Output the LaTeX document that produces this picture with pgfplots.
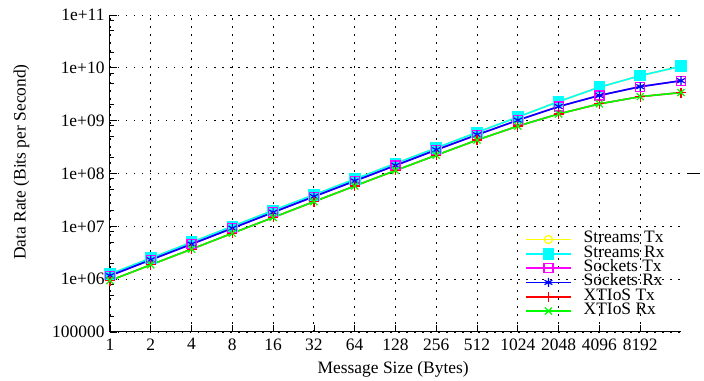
\documentclass[border=0pt]{standalone}
\usepackage{fontspec}
\setmainfont{Liberation Serif}
\usepackage{pgfplots}
\usepackage{pgfplotstable}
\pgfplotsset{compat=1.18}
\pgfplotstableread{
x st sr kt kr xt xr
0 1.25e6 1.25e6 1.16e6 1.16e6 0.94e6 0.94e6
1 2.5e6 2.5e6 2.32e6 2.32e6 1.87e6 1.87e6
2 5.0e6 5.0e6 4.6e6 4.6e6 3.7e6 3.7e6
3 1.0e7 1.0e7 9.2e6 9.2e6 7.4e6 7.4e6
4 2.0e7 2.0e7 1.84e7 1.84e7 1.47e7 1.47e7
5 3.95e7 3.95e7 3.65e7 3.65e7 2.93e7 2.93e7
6 7.8e7 7.8e7 7.2e7 7.2e7 5.8e7 5.8e7
7 1.55e8 1.55e8 1.42e8 1.42e8 1.14e8 1.14e8
8 3.05e8 3.05e8 2.8e8 2.8e8 2.22e8 2.22e8
9 6.0e8 6.0e8 5.4e8 5.4e8 4.3e8 4.3e8
10 1.17e9 1.17e9 1.02e9 1.02e9 7.9e8 7.9e8
11 2.3e9 2.3e9 1.85e9 1.85e9 1.34e9 1.34e9
12 4.3e9 4.3e9 3.0e9 3.0e9 2.08e9 2.08e9
13 7.1e9 7.1e9 4.4e9 4.4e9 2.85e9 2.85e9
14 1.07e10 1.07e10 5.7e9 5.7e9 3.4e9 3.4e9
}\datatable
\definecolor{cYel}{RGB}{255,255,0}
\definecolor{cCyan}{RGB}{0,255,255}
\definecolor{cMag}{RGB}{255,0,255}
\definecolor{cBlue}{RGB}{0,0,255}
\definecolor{cRed}{RGB}{255,0,0}
\definecolor{cGreen}{RGB}{0,255,0}
\newcommand{\bigf}{\fontsize{17.5}{20}\selectfont}
\begin{document}
\begin{tikzpicture}[font=\bigf]
\path[use as bounding box] (-110bp,-49bp) rectangle (594bp,332bp);
\begin{axis}[
  at={(0,0)}, anchor=south west,
  scale only axis,
  width=571bp, height=317bp,
  xmin=0, xmax=14,
  ymode=log, ymin=1e5, ymax=1e11,
  axis lines=left,
  axis line style={-, line width=1bp, black},
  clip=false,
  xtick={0,1,2,3,4,5,6,7,8,9,10,11,12,13},
  xticklabels={1,2,4,8,16,32,64,128,256,512,1024,2048,4096,8192},
  ytick={1e5,1e6,1e7,1e8,1e9,1e10,1e11},
  yticklabels={100000,1e+06,1e+07,1e+08,1e+09,1e+10,1e+11},
  minor ytick={2e5,5e5,8e5,2e6,5e6,8e6,2e7,5e7,8e7,2e8,5e8,8e8,2e9,5e9,8e9,2e10,5e10,8e10},
  /pgf/number format/assume math mode=true,
  tick align=inside,
  major tick length=7bp,
  minor tick length=4bp,
  tick style={black, line width=0.8bp},
  tick label style={font=\bigf},
  xticklabel style={yshift=-3bp},
  yticklabel style={xshift=-2bp},
  grid=major,
  major grid style={black, line width=0.9bp, dash pattern=on 1.5bp off 6.5bp},
  xlabel={Message Size (Bytes)},
  ylabel={Data Rate (Bits per Second)},
  every axis x label/.style={at={(axis description cs:0.496,-0.117)}, anchor=center, font=\bigf},
  every axis y label/.style={at={(axis description cs:-0.155,0.536)}, anchor=center, rotate=90, font=\bigf},
  legend cell align=left,
  legend style={draw=none, fill=none, at={(axis description cs:0.727,0.314)}, anchor=north west,
    inner sep=0pt, outer sep=0pt, row sep=0.2bp, column sep=12bp, font=\bigf,
    nodes={inner sep=0pt, text height=10.5bp, text depth=3.6bp}},
  legend image code/.code={\draw[mark repeat=2,mark phase=2] plot coordinates {(0bp,0bp) (22.5bp,0bp) (45bp,0bp)};},
  every axis plot/.append style={line width=1.6bp},
]
\addplot[cYel, mark=o, mark size=4bp, mark options={line width=1.2bp}] table[x=x, y=st] {\datatable};
\addlegendentry{Streams Tx}
\addplot[cCyan, mark=square*, mark size=5bp] table[x=x, y=sr] {\datatable};
\addlegendentry{Streams Rx}
\addplot[cMag, mark=square, mark size=4.5bp, mark options={line width=1.2bp}] table[x=x, y=kt] {\datatable};
\addlegendentry{Sockets Tx}
\addplot[cBlue, mark=asterisk, mark size=4.5bp, mark options={line width=1.2bp}] table[x=x, y=kr] {\datatable};
\addlegendentry{Sockets Rx}
\addplot[cRed, mark=+, mark size=5bp, mark options={line width=1.2bp}] table[x=x, y=xt] {\datatable};
\addlegendentry{XTIoS Tx}
\addplot[cGreen, mark=x, mark size=5bp, mark options={line width=1.2bp}] table[x=x, y=xr] {\datatable};
\addlegendentry{XTIoS Rx}
\draw[black, line width=0.8bp] (axis cs:14.15,1e8) -- (axis cs:14.47,1e8);
\end{axis}
\end{tikzpicture}
\end{document}
